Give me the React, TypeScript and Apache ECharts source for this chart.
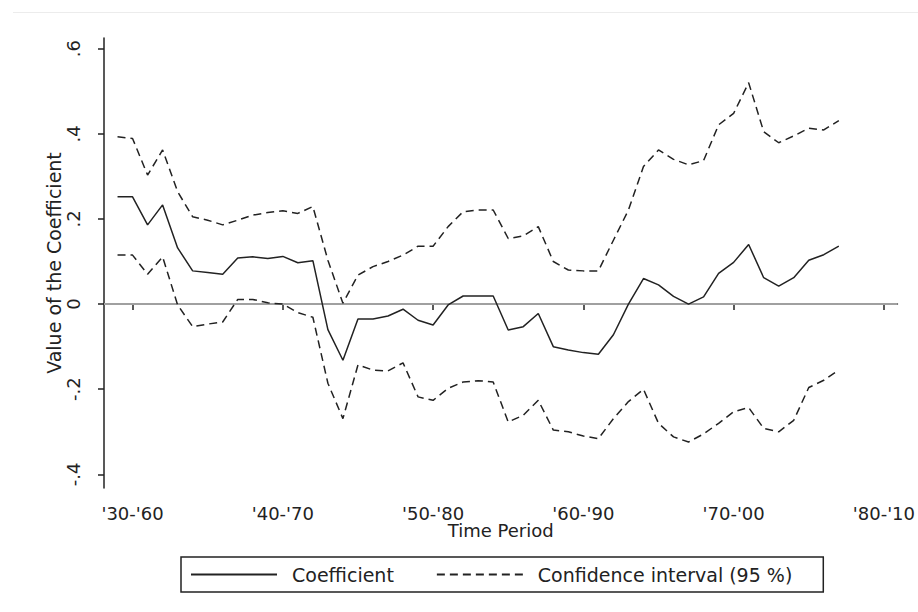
import React, { useEffect, useRef } from "react";
import * as echarts from "echarts";

const years = [
  1929, 1930, 1931, 1932, 1933, 1934, 1935, 1936, 1937, 1938,
  1939, 1940, 1941, 1942, 1943, 1944, 1945, 1946, 1947, 1948,
  1949, 1950, 1951, 1952, 1953, 1954, 1955, 1956, 1957, 1958,
  1959, 1960, 1961, 1962, 1963, 1964, 1965, 1966, 1967, 1968,
  1969, 1970, 1971, 1972, 1973, 1974, 1975, 1976, 1977,
];

const coefficient = [
  0.252, 0.252, 0.186, 0.233, 0.132, 0.078, 0.074, 0.07, 0.108, 0.111,
  0.107, 0.112, 0.097, 0.102, -0.06, -0.132, -0.035, -0.035, -0.028, -0.012,
  -0.038, -0.049, -0.002, 0.019, 0.019, 0.019, -0.061, -0.053, -0.022, -0.1,
  -0.108, -0.114, -0.118, -0.072, 0.0, 0.06, 0.045, 0.018, 0.0, 0.017,
  0.072, 0.098, 0.14, 0.062, 0.042, 0.062, 0.103, 0.116, 0.136,
];

const upperCI = [
  0.393, 0.389, 0.303, 0.362, 0.264, 0.205, 0.197, 0.186, 0.197, 0.209,
  0.215, 0.219, 0.213, 0.229, 0.103, 0.002, 0.068, 0.088, 0.1, 0.115,
  0.136, 0.136, 0.182, 0.217, 0.221, 0.221, 0.154, 0.16, 0.182, 0.1,
  0.08, 0.078, 0.078, 0.15, 0.221, 0.323, 0.362, 0.34, 0.327, 0.337,
  0.421, 0.448, 0.52, 0.405, 0.379, 0.395, 0.413, 0.409, 0.431,
];

const lowerCI = [
  0.115, 0.115, 0.07, 0.111, -0.002, -0.053, -0.047, -0.042, 0.011, 0.011,
  0.003, 0.0, -0.02, -0.031, -0.186, -0.269, -0.143, -0.155, -0.157, -0.138,
  -0.218, -0.226, -0.198, -0.183, -0.18, -0.183, -0.277, -0.261, -0.226, -0.296,
  -0.3, -0.31, -0.316, -0.269, -0.229, -0.2, -0.28, -0.312, -0.324, -0.305,
  -0.28, -0.253, -0.243, -0.292, -0.3, -0.273, -0.196, -0.179, -0.155,
];

const xTickValues = [1930, 1940, 1950, 1960, 1970, 1980];
const xTickLabels = ["'30-'60", "'40-'70", "'50-'80", "'60-'90", "'70-'00", "'80-'10"];
const yTickValues = [-0.4, -0.2, 0, 0.2, 0.4, 0.6];
const yTickLabels = ["-.4", "-.2", "0", ".2", ".4", ".6"];

const FONT = "DejaVu Sans";
const INK = "#222";

export default function App() {
  const ref = useRef<HTMLDivElement>(null);

  useEffect(() => {
    if (!ref.current) return;
    const chart = echarts.init(ref.current, undefined, { renderer: "svg" });
    const toPairs = (vals: number[]) => years.map((y, i) => [y, vals[i]]);
    const dashed = [8, 5];

    chart.setOption({
      animation: false,
      backgroundColor: "#fff",
      textStyle: { fontFamily: FONT, color: INK },
      grid: { left: 104, right: 16, top: 38, bottom: 124, containLabel: false },
      graphic: [
        {
          type: "line",
          shape: { x1: 13, y1: 12.5, x2: 918, y2: 12.5 },
          style: { stroke: "#ececec", lineWidth: 1 },
          silent: true,
        },
      ],
      legend: {
        left: 181,
        top: 557,
        orient: "horizontal",
        itemWidth: 86,
        itemHeight: 14,
        itemGap: 42,
        padding: [8, 31, 8, 9],
        borderColor: INK,
        borderWidth: 1.5,
        borderRadius: 0,
        itemStyle: { opacity: 0 },
        textStyle: { fontFamily: FONT, fontSize: 19, color: INK, padding: [0, 0, 0, 10] },
        data: ["Coefficient", "Confidence interval (95 %)"],
      },
      xAxis: {
        type: "value",
        min: 1928.1,
        max: 1980.9,
        name: "Time Period",
        nameLocation: "middle",
        nameGap: 33,
        nameMoveOverlap: false,
        nameTextStyle: { fontFamily: FONT, fontSize: 18, color: INK },
        axisLine: { show: true, lineStyle: { color: INK, width: 1.5 } },
        axisTick: { show: true, length: 6, customValues: xTickValues, lineStyle: { color: INK, width: 1.5 } },
        axisLabel: {
          customValues: xTickValues,
          margin: 16,
          fontFamily: FONT,
          fontSize: 18,
          color: INK,
          formatter: (v: number) => {
            const idx = xTickValues.indexOf(Math.round(v));
            return idx >= 0 ? xTickLabels[idx] : "";
          },
        },
        splitLine: { show: false },
      },
      yAxis: {
        type: "value",
        min: -0.432,
        max: 0.625,
        name: "Value of the Coefficient",
        nameLocation: "middle",
        nameGap: 41,
        nameMoveOverlap: false,
        nameTextStyle: { fontFamily: FONT, fontSize: 19, color: INK },
        axisLine: { show: true, lineStyle: { color: INK, width: 1.5 } },
        axisTick: { show: true, length: 6, customValues: yTickValues, lineStyle: { color: INK, width: 1.5 } },
        axisLabel: {
          customValues: yTickValues,
          rotate: 90,
          margin: 22,
          fontFamily: FONT,
          fontSize: 18,
          color: INK,
          formatter: (v: number) => {
            const idx = yTickValues.findIndex((t) => Math.abs(t - v) < 1e-6);
            return idx >= 0 ? yTickLabels[idx] : "";
          },
        },
        splitLine: { show: false },
      },
      series: [
        {
          name: "Coefficient",
          type: "line",
          data: toPairs(coefficient),
          symbol: "none",
          showSymbol: false,
          lineStyle: { color: INK, width: 1.5, type: "solid" },
          itemStyle: { color: INK },
          z: 3,
          markLine: {
            silent: true,
            symbol: "none",
            label: { show: false },
            lineStyle: { color: "#a0a0a0", width: 2, type: "solid" },
            data: [{ yAxis: 0 }],
            z: 1,
          },
        },
        {
          name: "Confidence interval (95 %)",
          type: "line",
          data: toPairs(upperCI),
          symbol: "none",
          showSymbol: false,
          lineStyle: { color: INK, width: 1.5, type: dashed },
          itemStyle: { color: INK },
          z: 3,
        },
        {
          name: "Confidence interval (95 %)",
          type: "line",
          data: toPairs(lowerCI),
          symbol: "none",
          showSymbol: false,
          lineStyle: { color: INK, width: 1.5, type: dashed },
          itemStyle: { color: INK },
          z: 3,
        },
      ],
    });

    return () => chart.dispose();
  }, []);

  return (
    <div
      ref={ref}
      style={{ position: "fixed", left: 0, top: 0, width: 918, height: 612, background: "#fff" }}
    />
  );
}
